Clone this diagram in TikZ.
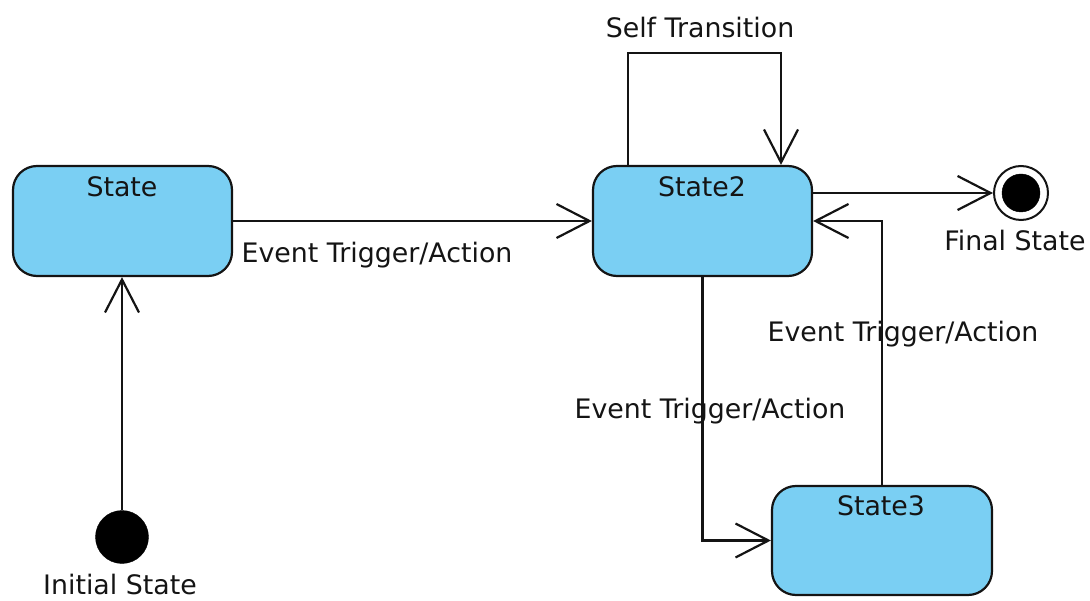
\documentclass[tikz,border=0pt]{standalone}
\usepackage{fontspec}
\setmainfont{DejaVu Sans}
\usetikzlibrary{arrows.meta}
\definecolor{statefill}{RGB}{122,207,243}
\definecolor{ink}{RGB}{20,20,20}
\tikzset{
  statebox/.style={draw=ink, fill=statefill, line width=2.2pt, rounded corners=24pt,
    minimum width=219pt, minimum height=110pt, inner sep=0pt},
  txt/.style={text=ink, font=\fontsize{26.8}{30}\selectfont, inner sep=0pt, anchor=base},
  flow/.style={draw=ink, line width=2.2pt,
    -{Straight Barb[length=33pt, width=34pt, line width=2.2pt]}},
  dot/.style={circle, fill=black, draw=black, inner sep=0pt},
}
\begin{document}
\begin{tikzpicture}[x=1pt, y=-1pt]
  \useasboundingbox (0,0) rectangle (1090,601);

  % states
  \node[statebox] (st1) at (122.5,221) {};
  \node[statebox] (st2) at (702.5,221) {};
  \node[statebox, minimum width=220pt, minimum height=109pt] (st3) at (882,540.5) {};
  \node[txt] (st1t) at (122,197) {State};
  \node[txt] (st2t) at (702,197) {State2};
  \node[txt] (st3t) at (881,515) {State3};

  % pseudo states
  \node[dot, minimum size=53pt] (init) at (122,537) {};
  \node[txt] (initt) at (120,594) {Initial State};
  \node[circle, draw=ink, line width=2pt, fill=white, minimum size=54pt, inner sep=0pt] (final) at (1021,193) {};
  \node[dot, minimum size=38pt] (finaldot) at (final.center) {};
  \node[txt] (finalt) at (1015,251) {Final State};

  % bend points
  \coordinate (selfa) at (628,53);
  \coordinate (selfb) at (781,53);

  % transitions
  \draw[flow] (init) -- (init |- st1.south);
  \draw[flow] (st1.east) -- (st2.west);
  \draw[flow] (st2.east |- final) -- (final.west);
  \draw[flow] (st2.north -| selfa) -- (selfa) -- (selfb) -- (selfb |- st2.north);
  \draw[flow] (st2.south) -- (st2.south |- st3.west) -- (st3.west);
  \draw[flow] (st3.north) -- (st3.north |- st2.east) -- (st2.east);

  % transition labels
  \node[txt] (selft) at (700,38) {Self Transition};
  \node[txt] (lab1) at (377,263) {Event Trigger/Action};
  \node[txt] (lab2) at (903,342) {Event Trigger/Action};
  \node[txt] (lab3) at (710,419) {Event Trigger/Action};
\end{tikzpicture}
\end{document}
